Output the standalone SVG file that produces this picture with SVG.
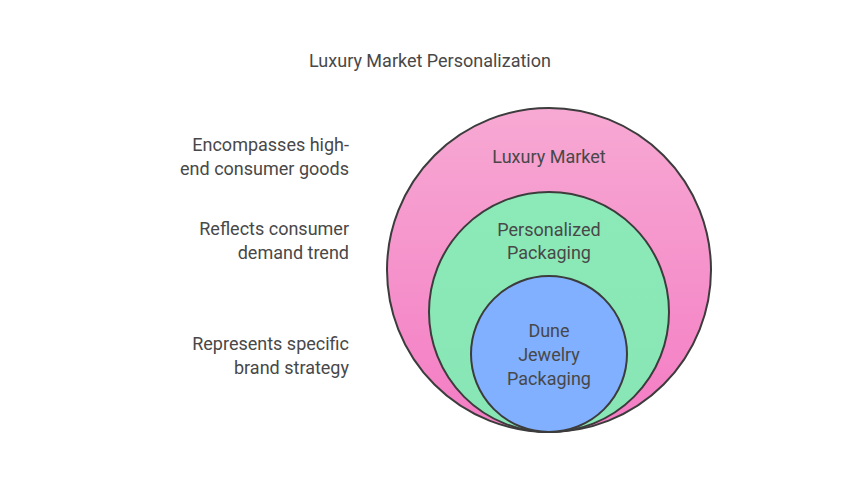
<svg xmlns="http://www.w3.org/2000/svg" width="862" height="485" viewBox="0 0 862 485">
<style>
text{font-family:Roboto,"Liberation Sans",sans-serif;font-size:18px;fill:#484848}
.c{text-anchor:middle}.r{text-anchor:end}
circle{stroke:#3c3c3c;stroke-width:2}
</style>
<defs>
<linearGradient id="pk" x1="0" y1="0" x2="0" y2="1"><stop offset="0" stop-color="#f7a9d3"/><stop offset="1" stop-color="#f47cc4"/></linearGradient>
<linearGradient id="gr" x1="0" y1="0" x2="0" y2="1"><stop offset="0" stop-color="#8ceab8"/><stop offset="1" stop-color="#88e6b6"/></linearGradient>
</defs>
<rect width="862" height="485" fill="#fff"/>
<text class="c" x="430" y="67">Luxury Market Personalization</text>
<g id="luxury"><circle cx="549" cy="270" r="162" fill="url(#pk)"/><text class="c" x="549" y="163">Luxury Market</text></g>
<g id="personalized"><circle cx="549" cy="312" r="120" fill="url(#gr)"/><text class="c" x="549" y="236">Personalized</text><text class="c" x="549" y="259">Packaging</text></g>
<g id="dune"><circle cx="549" cy="354" r="78" fill="#80b0ff"/><text class="c" x="549" y="337">Dune</text><text class="c" x="549" y="361">Jewelry</text><text class="c" x="549" y="385">Packaging</text></g>
<g id="labels">
<text class="r" x="349" y="151">Encompasses high-</text><text class="r" x="349" y="175">end consumer goods</text>
<text class="r" x="349" y="235">Reflects consumer</text><text class="r" x="349" y="259">demand trend</text>
<text class="r" x="349" y="350">Represents specific</text><text class="r" x="349" y="374">brand strategy</text>
</g>
<g id="connectors"/>
</svg>
